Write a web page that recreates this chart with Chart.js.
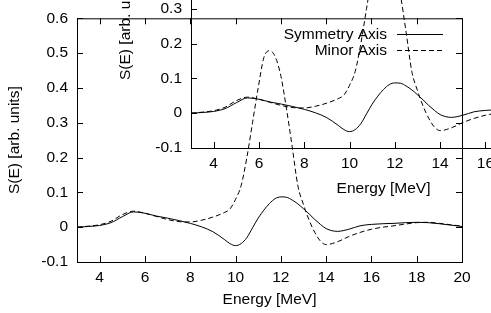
<!DOCTYPE html>
<html>
<head>
<meta charset="utf-8">
<script src="https://cdn.jsdelivr.net/npm/chart.js@4"></script>
<style>
  html, body { margin: 0; padding: 0; background: #fff; overflow: hidden; }
  body { width: 491px; height: 313px; position: relative; }
  canvas { position: absolute; }
</style>
</head>
<body>
<canvas id="main" width="491" height="313" style="left:0;top:0"></canvas>
<canvas id="inset" width="491" height="313" style="left:114px;top:-114px"></canvas>
<script>
const energy = [3, 3.5, 4, 4.5, 5, 5.5, 6, 6.5, 7, 7.5, 8, 8.5, 9, 9.5, 9.75, 10, 10.25, 10.5, 10.75,
    11, 11.25, 11.5, 11.75, 12, 12.25, 12.5, 12.75, 13, 13.25, 13.5, 13.75, 14, 14.5, 15, 15.5,
    16, 16.5, 17, 17.5, 18, 18.5, 19, 19.5, 20];
const symmetryAxis = [0.000, 0.002, 0.005, 0.013, 0.030, 0.044, 0.040, 0.032, 0.026, 0.019, 0.011,
    0.001, -0.013, -0.035, -0.047, -0.053, -0.047, -0.030, -0.002, 0.026, 0.049, 0.068, 0.082,
    0.087, 0.086, 0.078, 0.067, 0.053, 0.038, 0.022, 0.008, -0.004, -0.012, -0.006, 0.004,
    0.008, 0.010, 0.011, 0.013, 0.014, 0.013, 0.010, 0.006, 0.002];
const minorAxis = [0.000, 0.003, 0.007, 0.017, 0.036, 0.046, 0.040, 0.031, 0.022, 0.016, 0.015,
    0.020, 0.029, 0.042, 0.052, 0.080, 0.120, 0.200, 0.300, 0.400, 0.487, 0.507, 0.490,
    0.435, 0.340, 0.232, 0.120, 0.065, 0.020, -0.015, -0.040, -0.050, -0.042, -0.027, -0.015,
    -0.006, 0.000, 0.004, 0.009, 0.013, 0.014, 0.011, 0.007, 0.003];
const seriesNames = ["Symmetry Axis", "Minor Axis"];
const xTicks = [4, 6, 8, 10, 12, 14, 16, 18, 20];
const yTicks = [-0.1, 0, 0.1, 0.2, 0.3, 0.4, 0.5, 0.6];

Chart.defaults.font.family = '"Liberation Sans", Arial, sans-serif';
Chart.defaults.font.size = 15.5;
Chart.defaults.color = "#000";

// gnuplot style frame with inward ticks on all four sides
const frameTicks = {
    id: "frameTicks",
    afterDatasetsDraw(chart) {
        const { ctx, chartArea: a, scales: { x, y } } = chart;
        ctx.save();
        ctx.strokeStyle = "#000";
        ctx.lineWidth = 1;
        ctx.setLineDash([]);
        ctx.strokeRect(a.left + 0.5, a.top + 0.5, a.right - a.left, a.bottom - a.top);
        ctx.beginPath();
        x.ticks.forEach(t => {
            const px = Math.round(x.getPixelForValue(t.value)) + 0.5;
            ctx.moveTo(px, a.bottom); ctx.lineTo(px, a.bottom - 6);
            ctx.moveTo(px, a.top); ctx.lineTo(px, a.top + 6);
        });
        y.ticks.forEach(t => {
            const py = Math.round(y.getPixelForValue(t.value)) + 0.5;
            ctx.moveTo(a.left, py); ctx.lineTo(a.left + 6, py);
            ctx.moveTo(a.right, py); ctx.lineTo(a.right - 6, py);
        });
        ctx.stroke();
        ctx.restore();
    }
};

// key in the top right corner: text right aligned, sample after it
const keyBox = {
    id: "keyBox",
    afterDraw(chart) {
        const { ctx, chartArea: a } = chart;
        ctx.save();
        ctx.font = '15.5px "Liberation Sans", Arial, sans-serif';
        ctx.fillStyle = "#000";
        ctx.strokeStyle = "#000";
        ctx.lineWidth = 1;
        ctx.textAlign = "right";
        ctx.textBaseline = "middle";
        chart.data.datasets.forEach((ds, i) => {
            const yy = a.top + 16 + i * 16;
            ctx.fillText(ds.label, a.right - 75, yy);
            ctx.beginPath();
            ctx.setLineDash(ds.borderDash || []);
            ctx.moveTo(a.right - 65, Math.round(yy) + 0.5);
            ctx.lineTo(a.right - 19, Math.round(yy) + 0.5);
            ctx.stroke();
        });
        ctx.restore();
    }
};

function makeConfig(yTitlePad, xTitlePad, plugins) {
    return {
        type: "line",
        data: {
            datasets: [
                {
                    label: seriesNames[0],
                    data: energy.map((e, i) => ({ x: e, y: symmetryAxis[i] })),
                    borderColor: "#000",
                    borderWidth: 1,
                    pointRadius: 0,
                    cubicInterpolationMode: "monotone",
                },
                {
                    label: seriesNames[1],
                    data: energy.map((e, i) => ({ x: e, y: minorAxis[i] })),
                    borderColor: "#000",
                    borderWidth: 1,
                    borderDash: [5, 3],
                    pointRadius: 0,
                    cubicInterpolationMode: "monotone",
                },
            ],
        },
        options: {
            responsive: false,
            animation: false,
            layout: { padding: { top: 17, right: 29, left: 0, bottom: 0 } },
            scales: {
                x: {
                    type: "linear",
                    min: 3,
                    max: 20,
                    afterBuildTicks: s => { s.ticks = xTicks.map(v => ({ value: v })); },
                    afterFit: s => { s.height = 51; },
                    grid: { display: false, drawTicks: false },
                    border: { display: false },
                    ticks: { padding: 6, maxRotation: 0, autoSkip: false },
                    title: { display: true, text: "Energy [MeV]", padding: { top: 0, bottom: xTitlePad } },
                },
                y: {
                    type: "linear",
                    min: -0.1,
                    max: 0.6,
                    afterBuildTicks: s => { s.ticks = yTicks.map(v => ({ value: v })); },
                    afterFit: s => { s.width = 77; },
                    grid: { display: false, drawTicks: false },
                    border: { display: false },
                    ticks: { padding: 9, callback: v => String(Math.round(v * 10) / 10) },
                    title: { display: true, text: "S(E) [arb. units]", padding: { top: yTitlePad, bottom: 0 } },
                },
            },
            plugins: {
                legend: { display: false },
                tooltip: { enabled: false },
            },
        },
        plugins: plugins,
    };
}

const mainChart = new Chart(document.getElementById("main"), makeConfig(5, 3.5, [frameTicks, keyBox]));
const insetChart = new Chart(document.getElementById("inset"), makeConfig(2.5, 0.5, [frameTicks]));
</script>
</body>
</html>
